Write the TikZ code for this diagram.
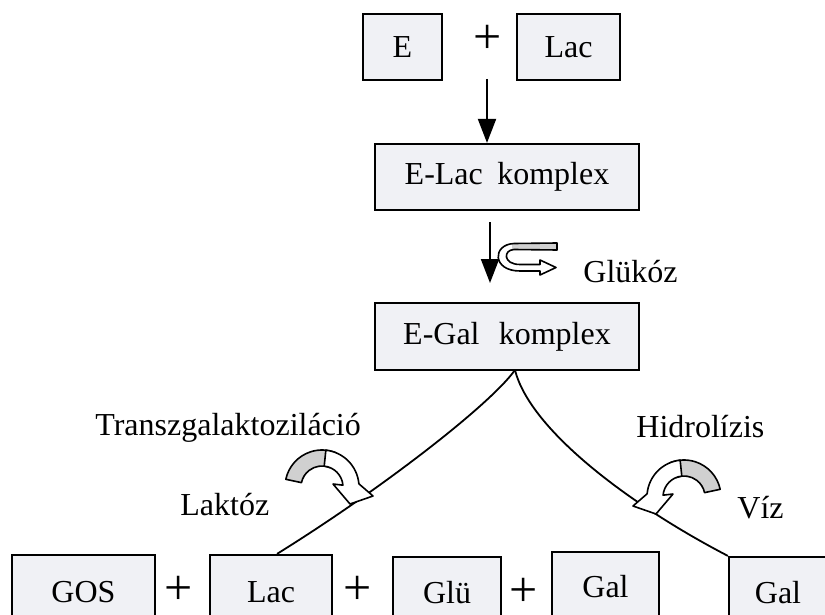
\documentclass[tikz,border=0pt]{standalone}
\usepackage{fontspec}
\setmainfont{Liberation Serif}
\usetikzlibrary{arrows.meta, calc}
\definecolor{boxFill}{RGB}{240,241,245}
\definecolor{arrowGray}{RGB}{208,208,208}
\tikzset{
  bendarrow/.pic={
    \filldraw[fill=arrowGray, line width=0.8pt, line join=round] (192:37) arc (192:292:37) -- (292:21) arc (292:192:21) -- cycle;
    \filldraw[fill=white, line width=0.8pt, line join=round] (276:37) arc (276:355:37) -- (51,9) -- (28,17) -- (11,-3) -- (355:21) arc (355:276:21) -- cycle;
  }
}

\begin{document}
\begin{tikzpicture}[x=0.5pt, y=-0.5pt,
    chem/.style={draw, line width=1.1pt, fill=boxFill, inner sep=0pt, font=\fontsize{16}{19}\selectfont},
    plussign/.style={inner sep=0pt, font=\fontsize{25}{25}\selectfont},
    lbl/.style={inner sep=0pt, font=\fontsize{16}{19}\selectfont},
    arr/.style={line width=1pt, -{Triangle[length=12pt, width=9pt]}},
    branch/.style={line width=0.9pt}]
  \useasboundingbox (0,0) rectangle (825,615);
  \clip (0,0) rectangle (825,615);

  % top row
  \node[chem, minimum width=39.5pt, minimum height=33pt] (enz) at (402.5,47) {E};
  \node[plussign] (p0) at (488,39) {+};
  \node[chem, minimum width=51.5pt, minimum height=33pt] (lact) at (568.5,47) {Lac};

  % complexes
  \node[chem, minimum width=132pt, minimum height=33pt] (elac) at (507,177) {E-Lac\hspace{0.45em}komplex};
  \node[chem, minimum width=132pt, minimum height=33.5pt] (egal) at (507,336.5) {E-Gal\hspace{0.6em}komplex};

  % products
  \node[chem, minimum width=71.5pt, minimum height=37pt] (gos) at (83.5,592) {GOS};
  \node[plussign] (p1) at (179,590) {+};
  \node[chem, minimum width=61pt, minimum height=37pt] (lacb) at (271,592) {Lac};
  \node[plussign] (p2) at (357.5,590) {+};
  \node[chem, minimum width=54pt, minimum height=36pt] (glu) at (447,593) {Glü};
  \node[plussign] (p3) at (524,592) {+};
  \node[chem, minimum width=53.5pt, minimum height=35pt] (gal) at (605.5,587) {Gal};
  \node[chem, minimum width=49pt, minimum height=36pt] (galr) at (778,593) {Gal};

  % labels
  \node[lbl, anchor=base west] (glukoz) at (583,282) {Glükóz};
  \node[lbl, anchor=base west] (transz) at (95,435) {Transzgalaktoziláció};
  \node[lbl, anchor=base west] (laktoz) at (180,515) {Laktóz};
  \node[lbl, anchor=base west] (hidro) at (636,437) {Hidrolízis};
  \node[lbl, anchor=base west] (viz) at (737,518) {Víz};

  % reaction arrows
  \coordinate (down1) at (487,79);
  \draw[arr] (down1) -- (down1 |- elac.north);
  \coordinate (down2) at (490,222);
  \coordinate (down2e) at (490,283);
  \draw[arr] (down2) -- (down2e);

  % glucose leaving
  \fill[arrowGray] (557,243) -- (512,243.5) -- (512,249.5) -- (557,250) -- cycle;
  \draw[line width=0.8pt, line join=round] (557,243) -- (514,243.5) .. controls (492,244.5) and (492,271) .. (520,271)
    -- (540,271) -- (540,275) -- (556,267.5) -- (540,260) -- (540,264.5) -- (520,264.5)
    .. controls (503,264.5) and (503,250) .. (514,249.5) -- (557,250) -- cycle;

  % two ways
  \coordinate (split) at (515,370);
  \draw[branch] (split) .. controls (490,405) and (380,490) .. ([xshift=3pt]lacb.north);
  \draw[branch] (split) .. controls (530,430) and (630,505) .. (galr.north west);

  \pic at (322,487) {bendarrow};
  \pic[xscale=-1] at (684,497) {bendarrow};
\end{tikzpicture}
\end{document}
